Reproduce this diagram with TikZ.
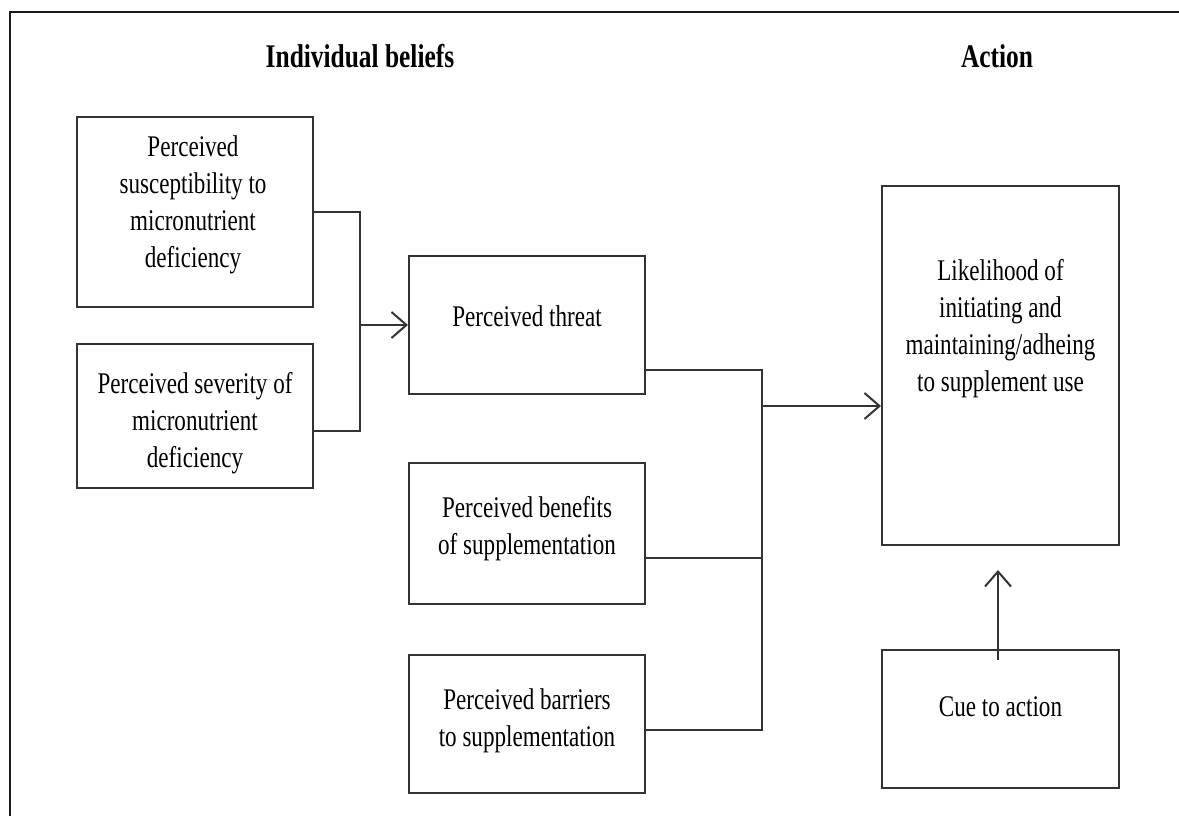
\documentclass[tikz,border=0pt]{standalone}
\usepackage{fontspec}
\setmainfont{Liberation Serif}[FakeStretch=0.77]
\usetikzlibrary{arrows.meta}
\begin{document}
\begin{tikzpicture}[x=1pt,y=-1pt,
  ln/.style={draw=black!80, line width=2pt},
  box/.style={ln, rectangle, inner sep=0pt},
  txt/.style={align=center, inner sep=0pt, font=\fontsize{30}{37}\selectfont},
  arr/.style={ln, -{Straight Barb[length=15pt,width=26pt,line width=2pt]}},
  ttl/.style={anchor=base, inner sep=0pt, font=\fontsize{33}{40}\selectfont\bfseries}]
\useasboundingbox (0,0) rectangle (1179,816);
\fill[white] (0,0) rectangle (1179,816);
\draw[black!90, line width=2pt] (1179,12) -- (10,12) -- (10,816);

% titles
\node[ttl] (t1) at (360,67) {Individual beliefs};
\node[ttl] (t2) at (997,67) {Action};

% boxes
\node[box, minimum width=236pt, minimum height=190pt] (A) at (195,212) {};
\node[txt] (Atx) at (193,204.5) {Perceived\\susceptibility to\\micronutrient\\deficiency};

\node[box, minimum width=236pt, minimum height=144pt] (B) at (195,416) {};
\node[txt] (Btx) at (195,423) {Perceived severity of\\micronutrient\\deficiency};

\node[box, minimum width=236pt, minimum height=138pt] (T) at (527,325) {};
\node[txt] (Ttx) at (527,316) {Perceived threat};

\node[box, minimum width=236pt, minimum height=141pt] (Ben) at (527,533.5) {};
\node[txt] (Bentx) at (527,529) {Perceived benefits\\of supplementation};

\node[box, minimum width=236pt, minimum height=138pt] (Bar) at (527,724) {};
\node[txt] (Bartx) at (527,720.5) {Perceived barriers\\to supplementation};

\node[box, minimum width=237pt, minimum height=359pt] (L) at (1000.5,365.5) {};
\node[txt] (Ltx) at (1000.5,329) {Likelihood of\\initiating and\\maintaining/adheing\\to supplement use};

\node[box, minimum width=237pt, minimum height=138pt] (C) at (1000.5,719) {};
\node[txt] (Ctx) at (1000.5,707) {Cue to action};

% junctions and ports
\coordinate (j1) at (360,212);
\coordinate (j2) at (360,431);
\coordinate (k1) at (762,370);
\coordinate (k2) at (762,730);
\coordinate (Bp) at ([yshift=-15pt]B.east);
\coordinate (Tp) at ([yshift=-45pt]T.east);
\coordinate (Benp) at ([yshift=-24.5pt]Ben.east);
\coordinate (Barp) at ([yshift=-6pt]Bar.east);
\coordinate (Lp) at ([yshift=-40.5pt]L.west);
\coordinate (Cs) at (998,660);
\coordinate (Lb) at (998,570);

% connectors
\draw[ln] (A.east) -- (j1) -- (j2) -- (Bp);
\draw[arr] (j1 |- T.west) -- (T.west);
\draw[ln] (Tp) -- (k1) -- (k2) -- (Barp);
\draw[ln] (Benp) -- (k1 |- Benp);
\draw[arr] (k1 |- Lp) -- (Lp);
\draw[arr] (Cs) -- (Lb);
\end{tikzpicture}
\end{document}
